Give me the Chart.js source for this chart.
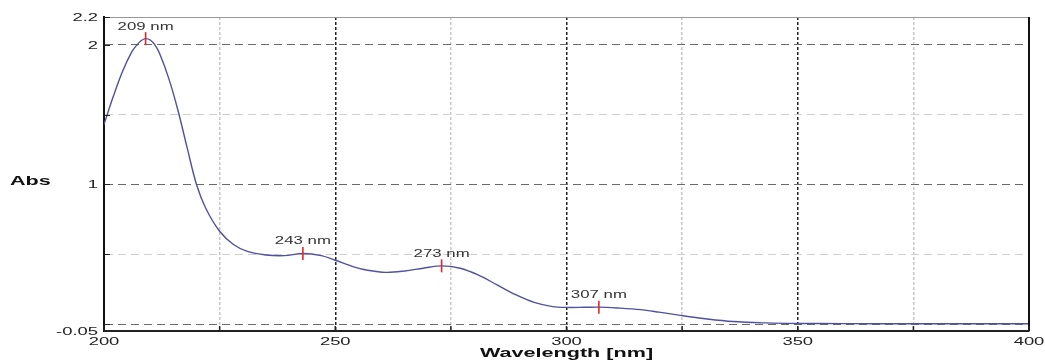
<!DOCTYPE html>
<html>
<head>
<meta charset="utf-8">
<script src="https://cdn.jsdelivr.net/npm/chart.js@4"></script>
<style>
  html, body { margin: 0; padding: 0; background: #fff; }
  #wrap { width: 1045px; height: 360px; }
</style>
</head>
<body>
<div id="wrap"><canvas id="spectrum"></canvas></div>
<script>
// UV spectrum
const wavelengths = [200, 202, 204, 206, 207, 208, 209, 210, 211, 212, 214, 216, 218, 220, 222, 225, 228, 231, 235, 239, 243, 247, 250, 254, 257, 261, 265, 269, 273, 277, 281, 285, 289, 293, 297, 300, 304, 307, 311, 316, 320, 325, 330, 336, 343, 350, 360, 375, 390, 400];
const absorbance = [1.43, 1.63, 1.81, 1.95, 1.995, 2.03, 2.045, 2.035, 2.0, 1.94, 1.76, 1.53, 1.26, 1.00, 0.83, 0.665, 0.57, 0.52, 0.495, 0.49, 0.505, 0.49, 0.457, 0.41, 0.385, 0.37, 0.38, 0.40, 0.417, 0.40, 0.35, 0.28, 0.21, 0.155, 0.125, 0.119, 0.12, 0.121, 0.115, 0.103, 0.085, 0.06, 0.038, 0.018, 0.008, 0.004, 0.003, 0.002, 0.002, 0.002];

const peakWl = [209, 243, 273, 307];
const peakAbs = [2.045, 0.505, 0.417, 0.121];
const peakLabels = ['209 nm', '243 nm', '273 nm', '307 nm'];

const xTicks = [200, 225, 250, 275, 300, 325, 350, 375, 400];
const xLabels = ['200', '', '250', '', '300', '', '350', '', '400'];
const yTicks = [-0.05, 0, 0.5, 1, 1.5, 2, 2.2];
const yLabels = ['-0.05', '', '', '1', '', '2', '2.2'];

const FONT = '"Liberation Sans", Arial, sans-serif';
const SX = 1.6; // the picture is stretched sideways

function wideText(ctx, text, x, y, align, font, color) {
    ctx.save();
    ctx.translate(x, y);
    ctx.scale(SX, 1);
    ctx.font = font;
    ctx.fillStyle = color;
    ctx.textAlign = align;
    ctx.textBaseline = 'middle';
    ctx.fillText(text, 0, 0);
    ctx.restore();
}

const isMajorX = v => v % 50 === 0;
const isMajorY = v => Number.isInteger(v);

// frame, inward ticks, labels and peak marks
const decorPlugin = {
    id: 'decor',
    afterDatasetsDraw(chart) {
        const { ctx, scales: { x, y } } = chart;
        ctx.save();
        ctx.strokeStyle = '#e8262a';
        ctx.lineWidth = 1.6;
        peakWl.forEach((w, i) => {
            const px = x.getPixelForValue(w);
            const py = y.getPixelForValue(peakAbs[i]);
            ctx.beginPath();
            ctx.moveTo(px, py - 6.5);
            ctx.lineTo(px, py + 6.5);
            ctx.stroke();
            wideText(ctx, peakLabels[i], px, py - 12, 'center', '10.5px ' + FONT, '#333');
        });
        ctx.restore();
    },
    afterDraw(chart) {
        const { ctx, chartArea: a, scales: { x, y } } = chart;
        ctx.save();
        // top and right edges
        ctx.strokeStyle = '#999';
        ctx.lineWidth = 1;
        ctx.beginPath();
        ctx.moveTo(a.left, a.top + 0.5);
        ctx.lineTo(a.right, a.top + 0.5);
        ctx.stroke();
        ctx.strokeStyle = '#111';
        ctx.lineWidth = 2;
        ctx.beginPath();
        ctx.moveTo(a.right, a.top);
        ctx.lineTo(a.right, a.bottom);
        ctx.stroke();

        // small inward tick marks
        ctx.strokeStyle = '#222';
        ctx.lineWidth = 1.5;
        xTicks.forEach(v => {
            const px = x.getPixelForValue(v);
            ctx.beginPath();
            ctx.moveTo(px, a.bottom);
            ctx.lineTo(px, a.bottom - 5);
            ctx.stroke();
        });
        ctx.lineWidth = 1;
        yTicks.forEach(v => {
            const py = Math.round(y.getPixelForValue(v)) + 0.5;
            ctx.beginPath();
            ctx.moveTo(a.left, py);
            ctx.lineTo(a.left + 6, py);
            ctx.stroke();
        });

        // tick labels
        xTicks.forEach((v, i) => {
            if (xLabels[i]) wideText(ctx, xLabels[i], x.getPixelForValue(v), a.bottom + 11, 'center', '11.5px ' + FONT, '#222');
        });
        yTicks.forEach((v, i) => {
            if (yLabels[i]) wideText(ctx, yLabels[i], a.left - 6, y.getPixelForValue(v) + 0.5, 'right', '11.5px ' + FONT, '#222');
        });

        // axis titles
        wideText(ctx, 'Abs', 10, 181, 'left', 'bold 13.5px ' + FONT, '#111');
        wideText(ctx, 'Wavelength [nm]', (a.left + a.right) / 2, 353, 'center', 'bold 13.5px ' + FONT, '#111');
        ctx.restore();
    }
};

const ctx = document.getElementById('spectrum').getContext('2d');
new Chart(ctx, {
    type: 'line',
    data: {
        datasets: [{
            data: wavelengths.map((w, i) => ({ x: w, y: absorbance[i] })),
            borderColor: '#5050a0',
            borderWidth: 1.4,
            pointRadius: 0,
            tension: 0.35,
            fill: false
        }]
    },
    options: {
        responsive: true,
        maintainAspectRatio: false,
        animation: false,
        layout: { padding: { top: 17, right: 16, left: 0, bottom: 0 } },
        plugins: { legend: { display: false }, tooltip: { enabled: false } },
        scales: {
            x: {
                type: 'linear',
                min: 200,
                max: 400,
                afterBuildTicks: s => { s.ticks = xTicks.map(v => ({ value: v })); },
                afterFit: s => { s.height = 29; },
                ticks: { display: false },
                grid: {
                    drawTicks: false,
                    lineWidth: 1.5,
                    color: c => {
                        const v = c.tick ? c.tick.value : 0;
                        if (v === 200 || v === 400) return 'rgba(0,0,0,0)';
                        return isMajorX(v) ? '#222' : '#c8c8c8';
                    }
                },
                border: { display: true, color: '#222', width: 2, dash: [3, 2] }
            },
            y: {
                type: 'linear',
                min: -0.05,
                max: 2.2,
                afterBuildTicks: s => { s.ticks = yTicks.map(v => ({ value: v })); },
                afterFit: s => { s.width = 104; },
                ticks: { display: false },
                grid: {
                    drawTicks: false,
                    lineWidth: 1,
                    color: c => {
                        const v = c.tick ? c.tick.value : 0;
                        if (v === -0.05 || v === 2.2) return 'rgba(0,0,0,0)';
                        return isMajorY(v) ? '#6a6a6a' : '#cfcfcf';
                    }
                },
                border: { display: true, color: '#111', width: 2, dash: [8, 5] }
            }
        }
    },
    plugins: [decorPlugin]
});
</script>
</body>
</html>
